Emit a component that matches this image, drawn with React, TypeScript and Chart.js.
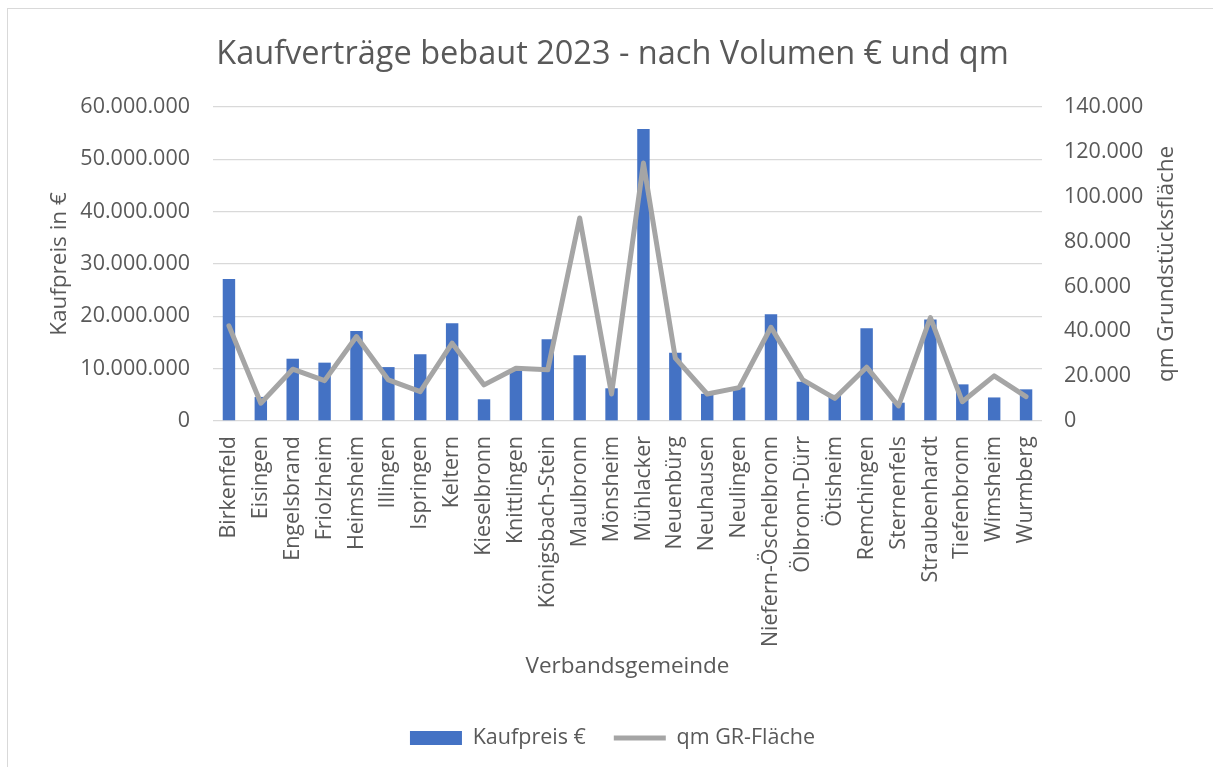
import React, { useEffect, useRef } from "react";
import { Chart, registerables } from "chart.js";

Chart.register(...registerables);

const categories: string[] = [
  "Birkenfeld", "Eisingen", "Engelsbrand", "Friolzheim", "Heimsheim", "Illingen",
  "Ispringen", "Keltern", "Kieselbronn", "Knittlingen", "Königsbach-Stein", "Maulbronn",
  "Mönsheim", "Mühlacker", "Neuenbürg", "Neuhausen", "Neulingen", "Niefern-Öschelbronn",
  "Ölbronn-Dürr", "Ötisheim", "Remchingen", "Sternenfels", "Straubenhardt", "Tiefenbronn",
  "Wimsheim", "Wurmberg",
];

const kaufpreis: number[] = [
  27150000, 4600000, 11900000, 11150000, 17200000, 10300000,
  12750000, 18700000, 4150000, 9800000, 15600000, 12550000,
  6250000, 55800000, 13050000, 5200000, 6400000, 20400000,
  7500000, 5000000, 17700000, 3500000, 19400000, 7000000,
  4500000, 6050000,
];

const qmFlaeche: number[] = [
  42400, 7900, 23100, 18000, 37650, 18300,
  13100, 34700, 16100, 23500, 22800, 90500,
  12050, 115000, 28000, 12050, 14900, 41800,
  18300, 10100, 24000, 6700, 46100, 8600,
  20100, 10850,
];

const leftTicks = { min: 0, max: 60000000, step: 10000000 };
const rightTicks = { min: 0, max: 140000, step: 20000 };

const TITLE = "Kaufverträge bebaut 2023 - nach Volumen € und qm";
const LEFT_TITLE = "Kaufpreis in €";
const RIGHT_TITLE = "qm Grundstücksfläche";
const X_TITLE = "Verbandsgemeinde";
const SERIES_BAR = "Kaufpreis €";
const SERIES_LINE = "qm GR-Fläche";

const FONT = "'Open Sans', 'Noto Sans', sans-serif";
const TEXT = "#595959";
const GRID = "#d9d9d9";
const BLUE = "#4472C4";
const GREY = "#A5A5A5";
const TICK_SIZE = 21.5;
const AXIS_TITLE_SIZE = 22.5;

const fmt = (v: number | string) =>
  String(Math.round(Number(v))).replace(/\B(?=(\d{3})+(?!\d))/g, ".");

const rightTitlePlugin = {
  id: "rightTitle",
  afterDraw(chart: any) {
    const s = chart.scales.y1;
    const area = chart.chartArea;
    const ctx = chart.ctx;
    ctx.save();
    ctx.fillStyle = TEXT;
    ctx.font = `${AXIS_TITLE_SIZE}px ${FONT}`;
    ctx.textAlign = "center";
    ctx.textBaseline = "middle";
    ctx.translate(s.right - 46, (area.top + area.bottom) / 2);
    ctx.rotate(-Math.PI / 2);
    ctx.fillText(RIGHT_TITLE, 0, 0);
    ctx.restore();
  },
};

export default function App() {
  const ref = useRef<HTMLCanvasElement | null>(null);

  useEffect(() => {
    if (!ref.current) return;
    const chart = new Chart(ref.current, {
      type: "bar",
      data: {
        labels: categories,
        datasets: [
          {
            type: "bar",
            label: SERIES_BAR,
            data: kaufpreis,
            backgroundColor: BLUE,
            borderWidth: 0,
            barPercentage: 0.39,
            categoryPercentage: 1,
            yAxisID: "y",
            order: 2,
            pointStyle: "rect",
          } as any,
          {
            type: "line",
            label: SERIES_LINE,
            data: qmFlaeche,
            borderColor: GREY,
            backgroundColor: GREY,
            borderWidth: 5,
            pointRadius: 0,
            pointHoverRadius: 0,
            pointStyle: "line",
            pointBorderWidth: 5,
            pointBorderColor: GREY,
            tension: 0,
            borderJoinStyle: "round",
            borderCapStyle: "round",
            yAxisID: "y1",
            order: 1,
          } as any,
        ],
      },
      options: {
        animation: false,
        responsive: false,
        maintainAspectRatio: false,
        layout: { padding: { left: 12, right: 0, top: 0, bottom: 8.25 } },
        font: { family: FONT },
        plugins: {
          tooltip: { enabled: false },
          title: {
            display: true,
            text: TITLE,
            color: TEXT,
            font: { family: FONT, size: 32.5, weight: "normal" as any, lineHeight: 1.2 },
            padding: { top: 35, bottom: 33 },
          },
          legend: {
            display: true,
            position: "bottom",
            fullSize: true,
            labels: {
              color: TEXT,
              font: { family: FONT, size: TICK_SIZE },
              usePointStyle: true,
              pointStyleWidth: 52,
              boxHeight: 14,
              padding: 28,
              sort: (a: any, b: any) => a.datasetIndex - b.datasetIndex,
            },
          },
        },
        scales: {
          x: {
            grid: { display: false, drawTicks: false },
            border: { display: false },
            ticks: {
              color: TEXT,
              font: { family: FONT, size: TICK_SIZE },
              minRotation: 90,
              maxRotation: 90,
              autoSkip: false,
              padding: 15,
            },
            title: {
              display: true,
              text: X_TITLE,
              color: TEXT,
              font: { family: FONT, size: AXIS_TITLE_SIZE, lineHeight: 1.2 },
              padding: { top: 0, bottom: 19 },
            },
            afterFit: (s: any) => {
              s.height = 278.25;
            },
          },
          y: {
            position: "left",
            min: leftTicks.min,
            max: leftTicks.max,
            grid: { color: GRID, lineWidth: 1.3, drawTicks: false },
            border: { display: false },
            ticks: {
              stepSize: leftTicks.step,
              color: TEXT,
              font: { family: FONT, size: TICK_SIZE },
              padding: 23,
              callback: (v: any) => fmt(v),
            },
            title: {
              display: true,
              text: LEFT_TITLE,
              color: TEXT,
              font: { family: FONT, size: AXIS_TITLE_SIZE, lineHeight: 1.2 },
              padding: { top: 34.5, bottom: 0 },
            },
            afterFit: (s: any) => {
              s.width = 201;
            },
          },
          y1: {
            position: "right",
            min: rightTicks.min,
            max: rightTicks.max,
            grid: { display: false, drawTicks: false },
            border: { display: false },
            ticks: {
              stepSize: rightTicks.step,
              color: TEXT,
              font: { family: FONT, size: TICK_SIZE },
              padding: 22,
              callback: (v: any) => fmt(v),
            },
            afterFit: (s: any) => {
              s.width = 171;
            },
          },
        },
      } as any,
      plugins: [rightTitlePlugin],
    });
    return () => chart.destroy();
  }, []);

  return (
    <div style={{ position: "absolute", left: 0, top: 0, width: 1213, height: 767, background: "#fff" }}>
      <div
        style={{
          position: "absolute",
          left: 7,
          top: 8,
          width: 1206,
          height: 759,
          borderTop: `1px solid ${GRID}`,
          borderLeft: `1px solid ${GRID}`,
          boxSizing: "border-box",
        }}
      />
      <canvas ref={ref} width={1213} height={767} style={{ position: "absolute", left: 0, top: 0 }} />
    </div>
  );
}
